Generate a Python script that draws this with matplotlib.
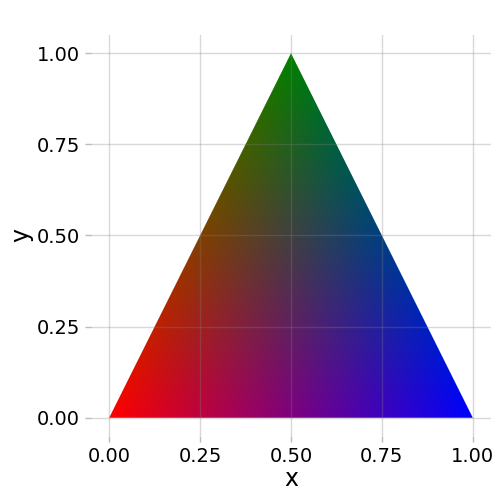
import matplotlib
matplotlib.use("Agg")
import matplotlib.pyplot as plt
import matplotlib.colors as mcolors
from matplotlib.patches import Polygon
import numpy as np

# triangle corners and their colours
vert_x = [0.0, 0.5, 1.0]
vert_y = [0.0, 1.0, 0.0]
vert_colors = ["red", "green", "blue"]
ticks = [0.00, 0.25, 0.50, 0.75, 1.00]
tick_labels = ["0.00", "0.25", "0.50", "0.75", "1.00"]

fig = plt.figure(figsize=(5, 5), dpi=100)
ax = fig.add_axes([0.182, 0.128, 0.8, 0.802])

# barycentric colour fill over a grid
n = 600
gx, gy = np.meshgrid(np.linspace(0, 1, n), np.linspace(0, 1, n))
(x1, x2, x3), (y1, y2, y3) = vert_x, vert_y
den = (y2 - y3) * (x1 - x3) + (x3 - x2) * (y1 - y3)
l1 = ((y2 - y3) * (gx - x3) + (x3 - x2) * (gy - y3)) / den
l2 = ((y3 - y1) * (gx - x3) + (x1 - x3) * (gy - y3)) / den
l3 = 1 - l1 - l2
rgb = np.array([mcolors.to_rgb(c) for c in vert_colors])
img = np.clip(l1[..., None] * rgb[0] + l2[..., None] * rgb[1] + l3[..., None] * rgb[2], 0, 1)

im = ax.imshow(img, extent=(0, 1, 0, 1), origin="lower", interpolation="bilinear",
               aspect="auto", zorder=1)
tri = Polygon(list(zip(vert_x, vert_y)), closed=True, transform=ax.transData,
              facecolor="none", edgecolor="none")
ax.add_patch(tri)
im.set_clip_path(tri)

ax.set_xlim(-0.05, 1.05)
ax.set_ylim(-0.05, 1.05)
ax.set_xticks(ticks)
ax.set_xticklabels(tick_labels)
ax.set_yticks(ticks)
ax.set_yticklabels(tick_labels)
ax.grid(True, color="#808080", alpha=0.3, linewidth=1.0, zorder=3)
ax.set_axisbelow(False)
for s in ax.spines.values():
    s.set_visible(False)
ax.tick_params(length=4, width=1, color="#bbbbbb", labelsize=14, labelcolor="black", pad=4)
ax.set_xlabel("x", fontsize=17, labelpad=1)
ax.set_ylabel("y", fontsize=17, labelpad=2)

fig.savefig("out.png", dpi=100)
